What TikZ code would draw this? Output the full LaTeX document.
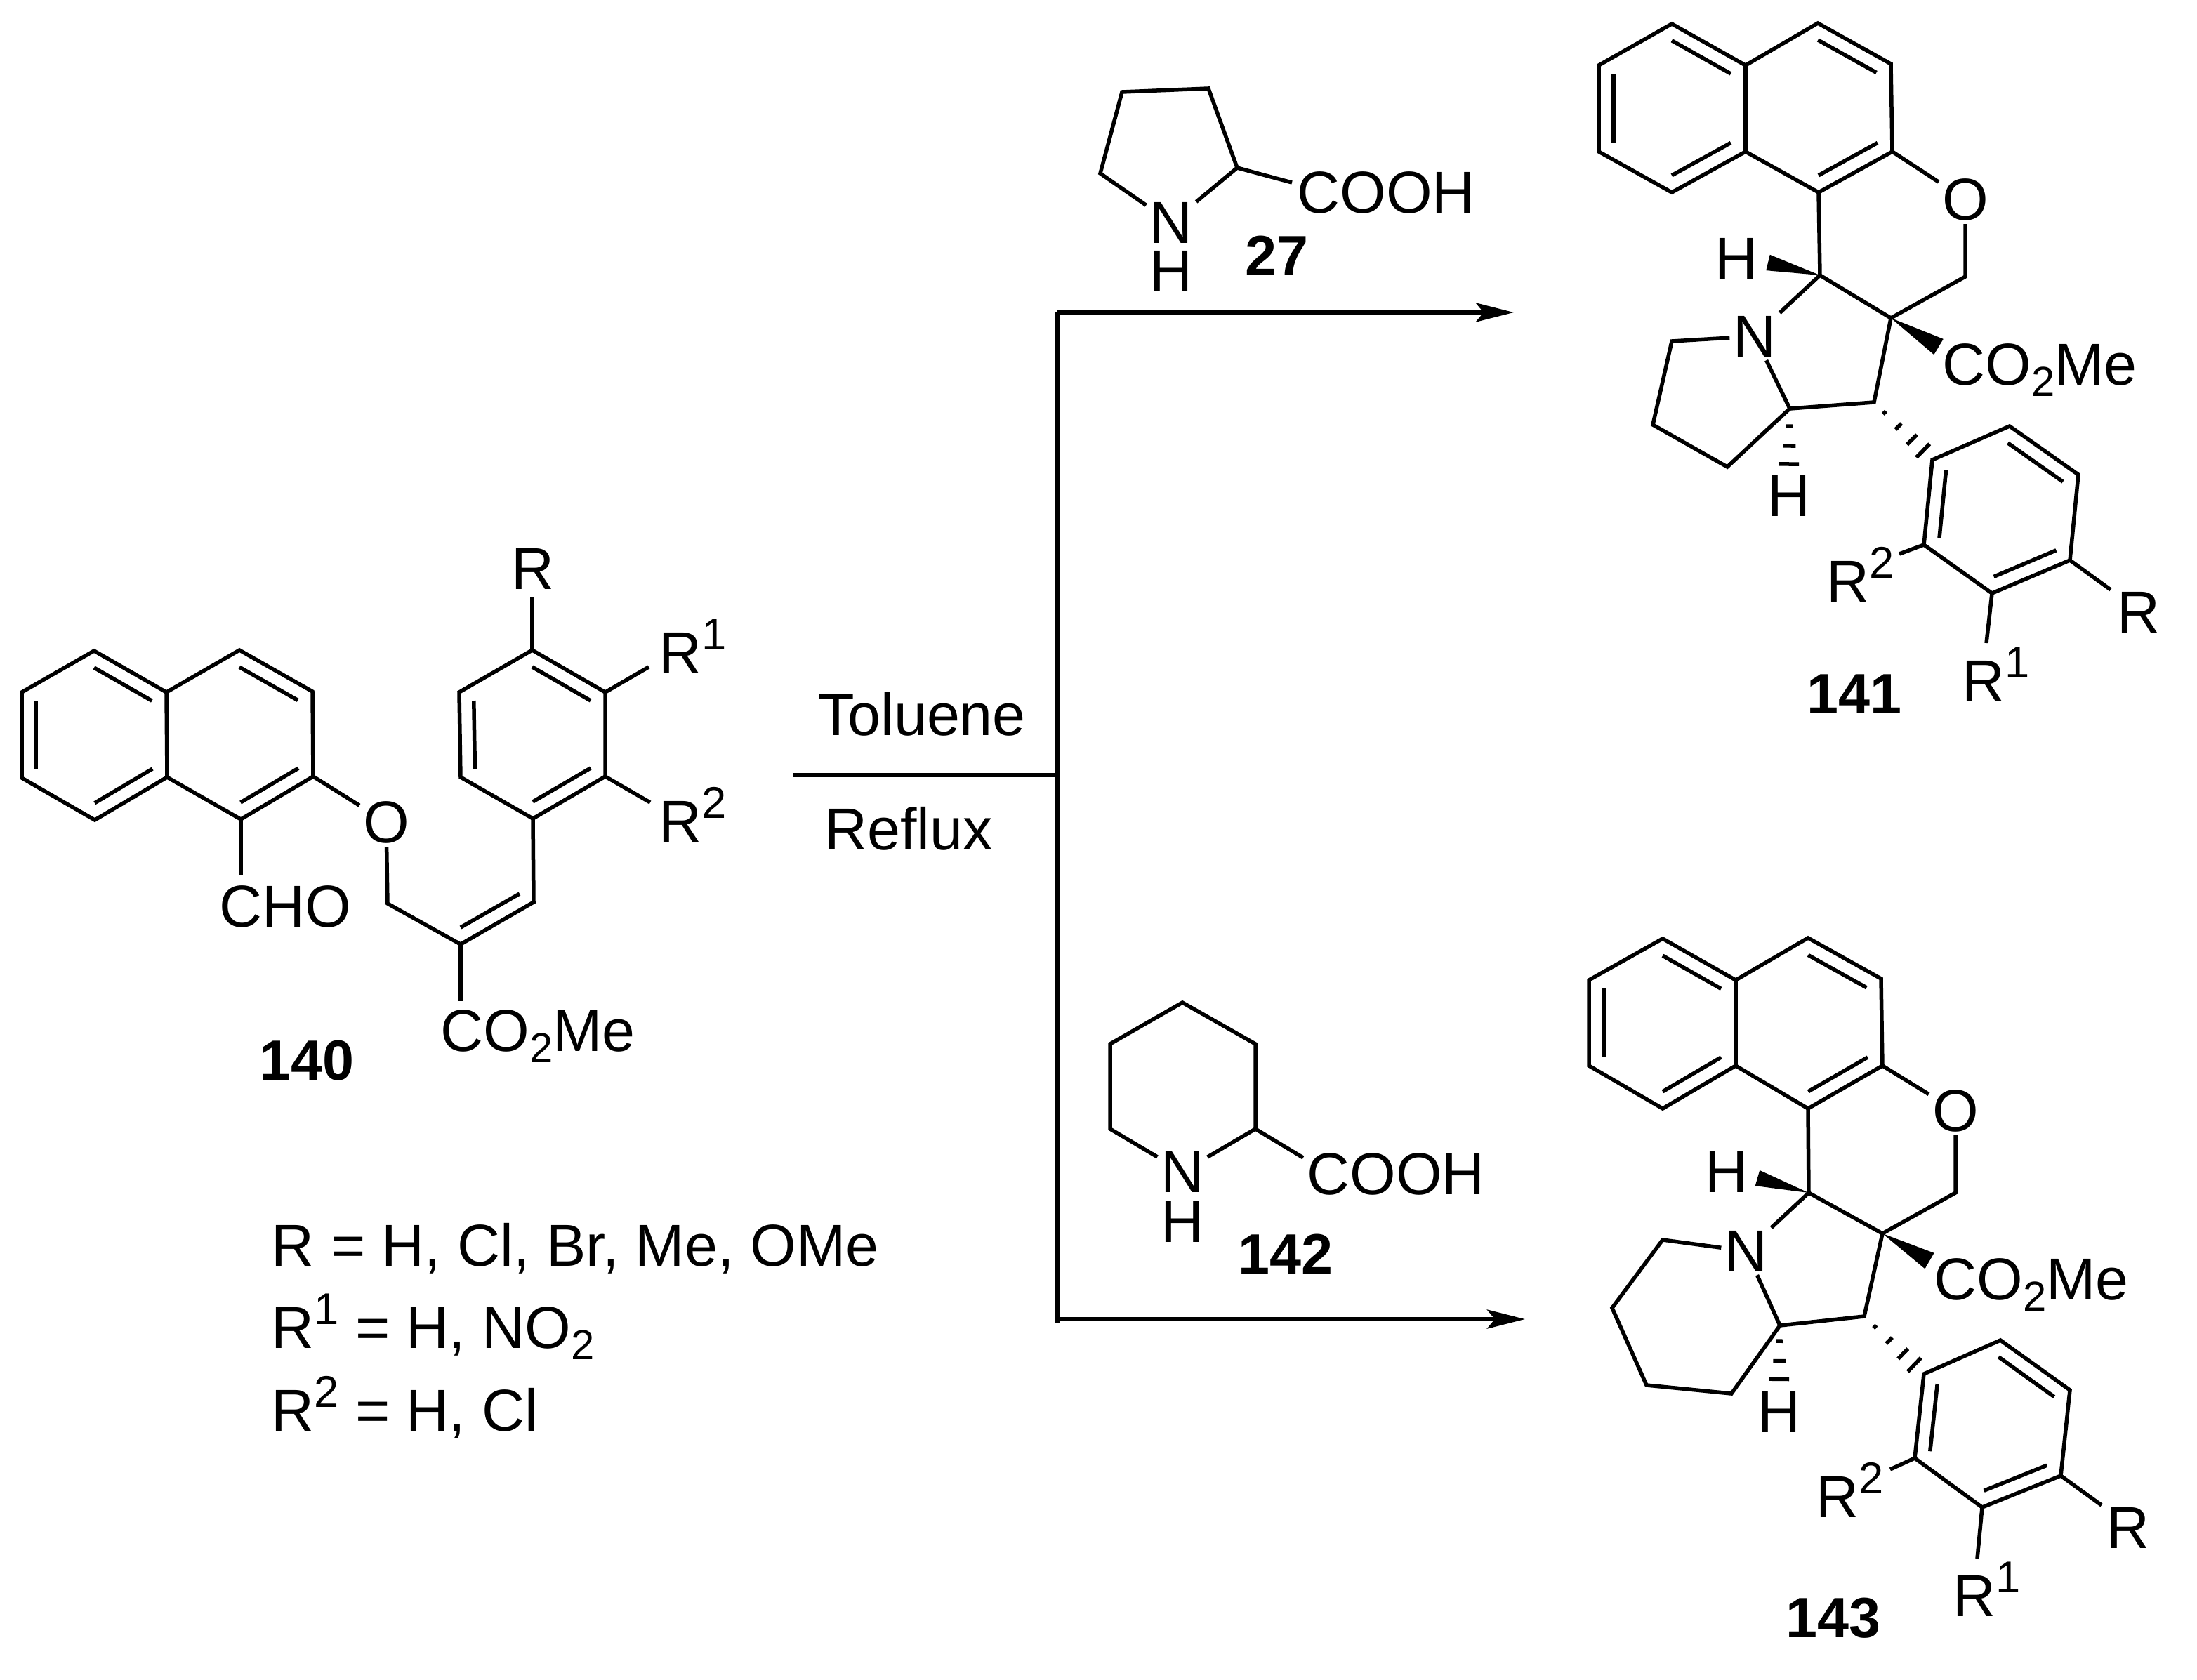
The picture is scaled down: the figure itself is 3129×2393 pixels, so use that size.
\documentclass[tikz,border=0pt]{standalone}
\usepackage{fontspec}
\setmainfont{Liberation Sans}
\usetikzlibrary{arrows.meta, calc}

\newcommand{\sbs}[1]{\raisebox{-.2em}{\fontsize{17}{17}\selectfont #1}}
\newcommand{\sps}[1]{\raisebox{.4em}{\fontsize{18}{18}\selectfont #1}}
\newcommand{\ringbond}[3]{\draw[bond] ($(#1)!.2!(#3)$) -- ($(#2)!.2!(#3)$);}
\newcommand{\wedgebond}[3]{\fill ($(#2)!#3!90:(#1)$) -- (#1) -- ($(#2)!#3!-90:(#1)$) -- cycle;}
\newcommand{\hashbond}[3]{\foreach \f/\w in {#3}
  \draw[bond] ($($(#1)!\f!(#2)$)!\w!90:(#2)$) -- ($($(#1)!\f!(#2)$)!\w!-90:(#2)$);}

\tikzset{
  bond/.style={line width=.055cm},
  txt/.style={inner sep=0, anchor=base, font=\fontsize{24}{28}\selectfont},
  txtl/.style={txt, anchor=base west},
  atom/.style={inner sep=.045cm, font=\fontsize{24}{28}\selectfont},
  cmpd/.style={txt, font=\fontsize{23}{27}\selectfont\bfseries},
  rxn/.style={line width=.06cm},
  rxnarrow/.style={rxn, -{Stealth[length=.54cm, width=.27cm, inset=.11cm]}}
}

\begin{document}
\begin{tikzpicture}[x=.01cm, y=-.01cm]
\useasboundingbox (0,0) rectangle (3129,2393);

% 140
\foreach \id/\x/\y in {a1/31/986, a2/134/927, a3/237/986, a4/341/926, a5/445/985, a6/446/1106,
  a7/343/1167, a8/238/1107, a9/135/1168, a10/31/1108, ra/134/1047, rb/341/1047,
  b1/759/1166, b2/862/1106, b3/862/986, b4/758/926, b5/654/986, b6/656/1107, rc/758/1046,
  ch/760/1285, cq/656/1345, oc/552/1287, alka/740/1273, alkb/656/1321,
  rtop/758/851, rone/924/950, rtwo/926/1143, chostub/343/1247, estub/656/1426}
  \coordinate (\id) at (\x,\y);
\node[atom] (oa) at (550,1171) {O};
\node[txt] (lra) at (759,839) {R};
\node[txtl] (lrb) at (938,959) {R\sps{1}};
\node[txtl] (lrc) at (938,1199) {R\sps{2}};
\node[txt] (cho) at (406,1320) {CHO};
\node[txtl] (esa) at (627,1497) {CO\sbs{2}Me};
\node[cmpd] (n140) at (437,1538) {140};
\draw[bond] (a1) -- (a2) -- (a3) -- (a4) -- (a5) -- (a6) -- (a7) -- (a8) -- (a9) -- (a10) -- cycle;
\draw[bond] (a3) -- (a8);
\draw[bond] (b1) -- (b2) -- (b3) -- (b4) -- (b5) -- (b6) -- cycle;
\ringbond{a1}{a10}{ra} \ringbond{a2}{a3}{ra} \ringbond{a8}{a9}{ra}
\ringbond{a4}{a5}{rb} \ringbond{a6}{a7}{rb}
\ringbond{b1}{b2}{rc} \ringbond{b3}{b4}{rc} \ringbond{b5}{b6}{rc}
\draw[bond] (a6) -- (oa);
\draw[bond] (oa) -- (oc) -- (cq) -- (ch) -- (b1);
\draw[bond] (alka) -- (alkb);
\draw[bond] (a7) -- (chostub);
\draw[bond] (cq) -- (estub);
\draw[bond] (b4) -- (rtop);
\draw[bond] (b3) -- (rone);
\draw[bond] (b2) -- (rtwo);

% Conditions
\node[txt] (tol) at (1313,1047) {Toluene};
\node[txt] (ref) at (1294,1210) {Reflux};
\foreach \id/\x/\y in {st/1129/1104, jn/1506/1104, up/1506/445, dn/1506/1884, dnb/1506/1879,
  ua/2156/445, da/2172/1879}
  \coordinate (\id) at (\x,\y);
\draw[rxn] (st) -- (jn);
\draw[rxn] (up) -- (dn);
\draw[rxnarrow] (up) -- (ua);
\draw[rxnarrow] (dnb) -- (da);

% Legend
\node[txtl] (lega) at (386,1803) {R = H, Cl, Br, Me, OMe};
\node[txtl] (legb) at (386,1920) {R\sps{1} = H, NO\sbs{2}};
\node[txtl] (legc) at (386,2038) {R\sps{2} = H, Cl};

% 27
\foreach \id/\x/\y in {p1/1598/131, p2/1721/126, p3/1762/239, p4/1567/247, cs/1840/260}
  \coordinate (\id) at (\x,\y);
\node[atom] (np) at (1668,317) {N};
\node[txt] (hp) at (1668,415) {H};
\node[txtl] (ca) at (1847,303) {COOH};
\node[cmpd] (n27) at (1818,392) {27};
\draw[bond] (np) -- (p4) -- (p1) -- (p2) -- (p3) -- (np);
\draw[bond] (p3) -- (cs);

% 142
\foreach \id/\x/\y in {q1/1684/1428, q2/1788/1487, q3/1788/1608, q5/1581/1608, q6/1581/1487, ct/1856/1649}
  \coordinate (\id) at (\x,\y);
\node[atom] (nq) at (1684,1669) {N};
\node[txt] (hq) at (1684,1769) {H};
\node[txtl] (cb) at (1861,1701) {COOH};
\node[cmpd] (n142) at (1831,1814) {142};
\draw[bond] (nq) -- (q5) -- (q6) -- (q1) -- (q2) -- (q3) -- (nq);
\draw[bond] (q3) -- (ct);

% 141
\foreach \id/\x/\y in {c1/2277/93, c2/2381/34, c3/2486/93, c4/2589/33, c5/2693/91, c6/2695/216,
  c7/2590/274, c8/2486/216, c9/2381/274, c10/2277/216, rd/2381/153, re/2590/153,
  g1/2799/394, g2/2693/453, g3/2592/392, g4/2381/486, g5/2354/605, g6/2460/665, g7/2549/582, g8/2669/573,
  w1/2518/374, w2/2761/494,
  d1/2752/655, d2/2862/607, d3/2960/676, d4/2948/798, d5/2837/845, d6/2740/776, rf/2850/727,
  sa/3006/840, sb/2829/916, sc/2705/789}
  \coordinate (\id) at (\x,\y);
\node[atom] (ob) at (2799,284) {O};
\node[atom] (nb) at (2499,479) {N};
\node[atom] (ha) at (2473,368) {H};
\node[atom] (hb) at (2548,706) {H};
\node[txtl] (esb) at (2766,548) {CO\sbs{2}Me};
\node[txt] (lsa) at (3046,901) {R};
\node[txtl] (lsb) at (2794,999) {R\sps{1}};
\node[txtl] (lsc) at (2601,857) {R\sps{2}};
\node[cmpd] (n141) at (2641,1016) {141};
\draw[bond] (c1) -- (c2) -- (c3) -- (c4) -- (c5) -- (c6) -- (c7) -- (c8) -- (c9) -- (c10) -- cycle;
\draw[bond] (c3) -- (c8);
\ringbond{c1}{c10}{rd} \ringbond{c2}{c3}{rd} \ringbond{c8}{c9}{rd}
\ringbond{c4}{c5}{re} \ringbond{c6}{c7}{re}
\draw[bond] (c6) -- (ob);
\draw[bond] (ob) -- (g1) -- (g2) -- (g3) -- (c7);
\draw[bond] (g3) -- (nb);
\draw[bond] (nb) -- (g4) -- (g5) -- (g6) -- (g7) -- (nb);
\draw[bond] (g7) -- (g8) -- (g2);
\wedgebond{g3}{w1}{.115cm}
\wedgebond{g2}{w2}{.13cm}
\hashbond{g8}{d1}{.18/.03cm, .42/.06cm, .65/.1cm, .84/.135cm}
\hashbond{g7}{hb.north}{.28/.05cm, .59/.09cm, .88/.14cm}
\draw[bond] (d1) -- (d2) -- (d3) -- (d4) -- (d5) -- (d6) -- cycle;
\ringbond{d1}{d6}{rf} \ringbond{d2}{d3}{rf} \ringbond{d4}{d5}{rf}
\draw[bond] (d4) -- (sa);
\draw[bond] (d5) -- (sb);
\draw[bond] (d6) -- (sc);

% 143
\foreach \id/\x/\y in {e1/2263/1396, e2/2368/1337, e3/2472/1396, e4/2575/1336, e5/2679/1394, e6/2681/1518,
  e7/2575/1579, e8/2472/1518, e9/2368/1579, e10/2263/1518, rg/2368/1458, rh/2576/1458,
  i1/2785/1699, i2/2681/1757, i3/2576/1699, i4/2368/1766, i5/2296/1863, i6/2345/1973, i7/2466/1985,
  i8/2535/1888, i9/2655/1875, w3/2503/1678, w4/2748/1796,
  f1/2740/1957, f2/2849/1909, f3/2948/1980, f4/2935/2102, f5/2823/2147, f6/2727/2077, ri/2836/2028,
  ta/2993/2144, tb/2816/2220, tc/2692/2093}
  \coordinate (\id) at (\x,\y);
\node[atom] (oc2) at (2785,1582) {O};
\node[atom] (nc) at (2487,1782) {N};
\node[atom] (hc) at (2459,1669) {H};
\node[atom] (hd) at (2534,2011) {H};
\node[txtl] (esc) at (2754,1851) {CO\sbs{2}Me};
\node[txt] (lta) at (3031,2205) {R};
\node[txtl] (ltb) at (2781,2302) {R\sps{1}};
\node[txtl] (ltc) at (2586,2161) {R\sps{2}};
\node[cmpd] (n143) at (2611,2332) {143};
\draw[bond] (e1) -- (e2) -- (e3) -- (e4) -- (e5) -- (e6) -- (e7) -- (e8) -- (e9) -- (e10) -- cycle;
\draw[bond] (e3) -- (e8);
\ringbond{e1}{e10}{rg} \ringbond{e2}{e3}{rg} \ringbond{e8}{e9}{rg}
\ringbond{e4}{e5}{rh} \ringbond{e6}{e7}{rh}
\draw[bond] (e6) -- (oc2);
\draw[bond] (oc2) -- (i1) -- (i2) -- (i3) -- (e7);
\draw[bond] (i3) -- (nc);
\draw[bond] (nc) -- (i4) -- (i5) -- (i6) -- (i7) -- (i8) -- (nc);
\draw[bond] (i8) -- (i9) -- (i2);
\wedgebond{i3}{w3}{.115cm}
\wedgebond{i2}{w4}{.13cm}
\hashbond{i9}{f1}{.18/.03cm, .42/.06cm, .65/.1cm, .84/.135cm}
\hashbond{i8}{hd.north}{.25/.05cm, .57/.09cm, .86/.14cm}
\draw[bond] (f1) -- (f2) -- (f3) -- (f4) -- (f5) -- (f6) -- cycle;
\ringbond{f1}{f6}{ri} \ringbond{f2}{f3}{ri} \ringbond{f4}{f5}{ri}
\draw[bond] (f4) -- (ta);
\draw[bond] (f5) -- (tb);
\draw[bond] (f6) -- (tc);
\end{tikzpicture}
\end{document}
